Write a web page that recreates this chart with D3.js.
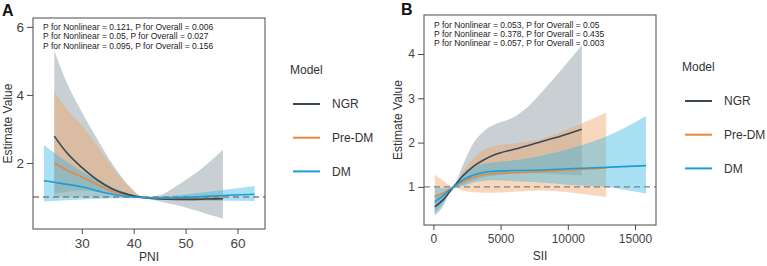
<!DOCTYPE html>
<html><head><meta charset="utf-8">
<script src="https://cdn.jsdelivr.net/npm/d3@7"></script>
<style>
body{margin:0;background:#fff;}
svg{display:block;font-family:"Liberation Sans",Arial,sans-serif;}
</style></head>
<body><svg id="c" width="767" height="266"></svg>
<script>
// ---------- Data ----------
const models = ["NGR", "Pre-DM", "DM"];
const modelColors = ["#3b4852", "#e8873f", "#1a9fd5"];
const bandColors = ["#7d8e96", "#f0a060", "#33b5e5"];

// Panel A: PNI
const pniTicksX = [30, 40, 50, 60];
const pniTicksY = [2, 4, 6];
const pniPText = [
  "P for Nonlinear = 0.121, P for Overall = 0.006",
  "P for Nonlinear = 0.05, P for Overall = 0.027",
  "P for Nonlinear = 0.095, P for Overall = 0.156"
];
const pniNGR_x  = [24.7, 27, 30, 33, 36, 39, 42, 45, 48, 51, 54, 57.2];
const pniNGR_y  = [2.79, 2.32, 1.87, 1.5, 1.23, 1.07, 0.98, 0.94, 0.93, 0.93, 0.94, 0.95];
const pniNGR_hi = [5.3, 4.4, 3.5, 2.7, 1.95, 1.35, 1.0, 1.05, 1.3, 1.6, 1.95, 2.39];
const pniNGR_lo = [1.1, 1.15, 1.2, 1.15, 1.08, 1.02, 0.97, 0.87, 0.77, 0.65, 0.51, 0.37];
const pniPre_x  = [24.7, 27, 30, 33, 36, 39, 42, 45, 48, 51, 54, 57.2];
const pniPre_y  = [2.0, 1.8, 1.59, 1.37, 1.16, 1.05, 0.99, 0.96, 0.95, 0.95, 0.95, 0.96];
const pniPre_hi = [4.1, 3.6, 3.1, 2.5, 1.85, 1.3, 1.0, 1.0, 1.01, 1.02, 1.03, 1.04];
const pniPre_lo = [1.0, 1.0, 1.0, 1.0, 0.99, 0.98, 0.97, 0.93, 0.92, 0.91, 0.9, 0.9];
const pniDM_x  = [22.7, 26, 30, 34, 38, 42, 46, 50, 54, 58, 63.3];
const pniDM_y  = [1.48, 1.4, 1.3, 1.14, 1.03, 0.98, 0.97, 0.99, 1.02, 1.05, 1.08];
const pniDM_hi = [2.53, 2.15, 1.75, 1.43, 1.16, 1.0, 1.02, 1.08, 1.15, 1.22, 1.32];
const pniDM_lo = [0.87, 0.9, 0.93, 0.95, 0.96, 0.96, 0.93, 0.9, 0.89, 0.89, 0.88];

// Panel B: SII
const siiTicksX = [0, 5000, 10000, 15000];
const siiTicksY = [1, 2, 3, 4];
const siiPText = [
  "P for Nonlinear = 0.053, P for Overall = 0.05",
  "P for Nonlinear = 0.378, P for Overall = 0.435",
  "P for Nonlinear = 0.057, P for Overall = 0.003"
];
const siiNGR_x  = [100, 700, 1500, 2200, 3000, 3800, 4500, 6000, 7000, 8000, 9500, 11040];
const siiNGR_y  = [0.55, 0.7, 1.0, 1.25, 1.47, 1.62, 1.72, 1.85, 1.93, 2.02, 2.15, 2.3];
const siiNGR_hi = [0.82, 0.88, 1.0, 1.5, 2.0, 2.27, 2.4, 2.58, 2.8, 3.12, 3.64, 4.2];
const siiNGR_lo = [0.35, 0.55, 1.0, 1.05, 1.15, 1.22, 1.25, 1.3, 1.3, 1.3, 1.28, 1.26];
const siiPre_x  = [100, 700, 1500, 2200, 3000, 3800, 4500, 6000, 8000, 10000, 12850];
const siiPre_y  = [0.78, 0.86, 1.0, 1.12, 1.22, 1.28, 1.3, 1.32, 1.35, 1.38, 1.43];
const siiPre_hi = [1.28, 1.15, 1.0, 1.35, 1.65, 1.85, 1.92, 1.98, 2.08, 2.3, 2.68];
const siiPre_lo = [0.45, 0.65, 1.0, 0.92, 0.88, 0.87, 0.87, 0.89, 0.92, 0.88, 0.77];
const siiDM_x  = [100, 700, 1500, 2200, 3000, 3800, 4500, 6000, 8000, 10000, 12800, 15820];
const siiDM_y  = [0.66, 0.8, 1.0, 1.16, 1.27, 1.33, 1.35, 1.37, 1.38, 1.41, 1.44, 1.48];
const siiDM_hi = [1.0, 0.97, 1.0, 1.3, 1.45, 1.52, 1.55, 1.6, 1.7, 1.85, 2.13, 2.6];
const siiDM_lo = [0.38, 0.62, 1.0, 1.02, 1.1, 1.14, 1.15, 1.13, 1.1, 1.05, 1.0, 0.85];

// ---------- Drawing ----------
const svg = d3.select("#c");

function zip(x, y, lo, hi){ return x.map((v,i)=>({x:v, y:y[i], lo:lo[i], hi:hi[i]})); }

function panel(cfg){
  const g = svg.append("g");
  const x = d3.scaleLinear().domain(cfg.xDomain).range([cfg.left, cfg.right]);
  const y = d3.scaleLinear().domain(cfg.yDomain).range([cfg.bottom, cfg.top]);

  const area = d3.area().curve(d3.curveMonotoneX)
    .x(d=>x(d.x)).y0(d=>y(d.lo)).y1(d=>y(d.hi));
  const line = d3.line().curve(d3.curveMonotoneX).x(d=>x(d.x)).y(d=>y(d.y));

  // bands
  cfg.series.forEach((s,i)=>{
    g.append("path").datum(s).attr("d", area)
      .attr("fill", bandColors[i]).attr("fill-opacity", 0.42);
  });
  // reference line
  g.append("line").attr("x1", cfg.left).attr("x2", cfg.right)
    .attr("y1", y(1)).attr("y2", y(1))
    .attr("stroke", "#808080").attr("stroke-width", 1.4).attr("stroke-dasharray", "6,4");
  // lines: Pre-DM, NGR, DM
  [1,0,2].forEach(i=>{
    g.append("path").datum(cfg.series[i]).attr("d", line)
      .attr("fill","none").attr("stroke", modelColors[i]).attr("stroke-width", 1.6);
  });

  // frame
  g.append("rect").attr("x", cfg.left).attr("y", cfg.top)
    .attr("width", cfg.right-cfg.left).attr("height", cfg.bottom-cfg.top)
    .attr("fill","none").attr("stroke","#4a4a4a").attr("stroke-width",1);

  // axes
  const xa = g.append("g").attr("transform", `translate(0,${cfg.bottom})`)
    .call(d3.axisBottom(x).tickValues(cfg.xTicks).tickSize(5).tickPadding(4).tickFormat(d3.format("d")));
  const ya = g.append("g").attr("transform", `translate(${cfg.left},0)`)
    .call(d3.axisLeft(y).tickValues(cfg.yTicks).tickSize(6).tickPadding(3).tickFormat(d3.format("d")));
  [xa, ya].forEach(a=>{
    a.select(".domain").remove();
    a.selectAll(".tick line").attr("stroke","#4a4a4a");
    a.selectAll(".tick text").attr("fill","#444").attr("font-size", cfg.tickSize)
      .attr("font-family", '"Liberation Sans",Arial,sans-serif');
  });

  // titles
  g.append("text").attr("x", (cfg.left+cfg.right)/2).attr("y", cfg.xTitleY)
    .attr("text-anchor","middle").attr("font-size",12).attr("fill","#333").text(cfg.xTitle);
  g.append("text").attr("transform", `translate(${cfg.yTitleX},${(cfg.top+cfg.bottom)/2}) rotate(-90)`)
    .attr("text-anchor","middle").attr("font-size",12).attr("fill","#333").text("Estimate Value");

  // panel letter
  g.append("text").attr("x", cfg.letterX).attr("y", cfg.letterY)
    .attr("font-size",16).attr("font-weight","bold").attr("fill","#111").text(cfg.letter);

  // p text
  cfg.pText.forEach((t,i)=>{
    g.append("text").attr("x", cfg.pX).attr("y", cfg.pY + i*9.4)
      .attr("font-size", 8.5).attr("fill","#222").text(t);
  });

  // legend
  const lg = g.append("g").attr("transform", `translate(${cfg.legX},${cfg.legY})`);
  lg.append("text").attr("x", -3).attr("y", 0).attr("font-size",12).attr("fill","#333").text("Model");
  models.forEach((m,i)=>{
    const yy = 30 + i*33.7;
    lg.append("line").attr("x1",0).attr("x2",27).attr("y1",yy).attr("y2",yy)
      .attr("stroke", modelColors[i]).attr("stroke-width",2);
    lg.append("text").attr("x", 39).attr("y", yy+4.3).attr("font-size",12).attr("fill","#333").text(m);
  });
}

panel({
  left:33, right:265, top:18, bottom:229,
  xDomain:[20.6, 65.3], yDomain:[0.06, 6.26],
  xTicks:pniTicksX, yTicks:pniTicksY, tickSize:13.5,
  xTitle:"PNI", xTitleY:261, yTitleX:12,
  letter:"A", letterX:2, letterY:16,
  pText:pniPText, pX:43, pY:30,
  legX:293, legY:74,
  series:[zip(pniNGR_x,pniNGR_y,pniNGR_lo,pniNGR_hi),
          zip(pniPre_x,pniPre_y,pniPre_lo,pniPre_hi),
          zip(pniDM_x,pniDM_y,pniDM_lo,pniDM_hi)]
});

panel({
  left:424, right:656, top:15, bottom:225,
  xDomain:[-700, 16560], yDomain:[0.14, 4.88],
  xTicks:siiTicksX, yTicks:siiTicksY, tickSize:12,
  xTitle:"SII", xTitleY:260, yTitleX:402,
  letter:"B", letterX:401, letterY:15,
  pText:siiPText, pX:434, pY:27.5,
  legX:685, legY:71,
  series:[zip(siiNGR_x,siiNGR_y,siiNGR_lo,siiNGR_hi),
          zip(siiPre_x,siiPre_y,siiPre_lo,siiPre_hi),
          zip(siiDM_x,siiDM_y,siiDM_lo,siiDM_hi)]
});
</script></body></html>
